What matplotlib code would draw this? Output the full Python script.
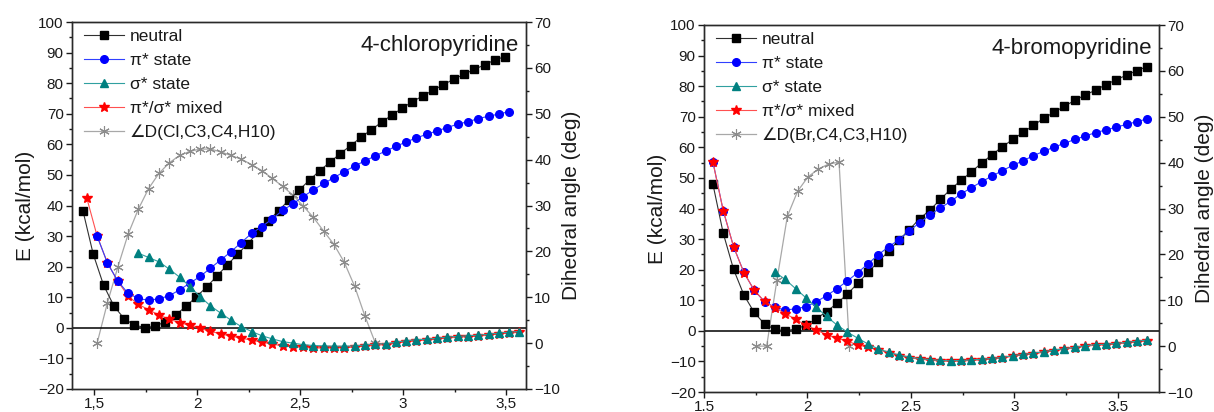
import matplotlib
matplotlib.use("Agg")
import matplotlib.pyplot as plt
from matplotlib.ticker import MultipleLocator, FixedLocator, FixedFormatter
import numpy as np

plt.rcParams['font.family'] = ['Liberation Sans', 'DejaVu Sans']

# ---------------- 4-chloropyridine ----------------
cl_neutral_x = np.round(np.arange(1.446, 3.50, 0.05), 3)
cl_neutral = [38.3, 24.1, 14.0, 7.2, 3.0, 0.9, 0.1, 0.5, 2.0, 4.2, 7.0, 10.1, 13.3, 16.9,
              20.5, 24.0, 27.5, 31.2, 35.0, 38.3, 41.8, 45.1, 48.3, 51.4, 54.2, 57.0, 59.6,
              62.3, 64.8, 67.2, 69.6, 71.8, 74.0, 75.8, 77.7, 79.5, 81.3, 82.9, 84.5, 86.0,
              87.6, 88.7]

cl_pi_x = np.round(np.arange(1.515, 3.52, 0.05), 3)
cl_pi = [30.0, 21.2, 15.3, 11.3, 9.6, 9.0, 9.5, 10.5, 12.4, 14.6, 16.8, 19.5, 22.2, 24.9,
         27.9, 30.9, 33.1, 35.6, 38.4, 40.5, 42.9, 45.1, 47.2, 49.1, 51.1, 52.9, 54.6, 56.2,
         57.8, 59.3, 60.8, 62.1, 63.3, 64.4, 65.5, 66.6, 67.4, 68.4, 69.2, 69.9, 70.7]

cl_sigma_x = np.round(np.arange(1.715, 3.57, 0.05), 3)
cl_sigma = [24.4, 23.0, 21.6, 19.2, 16.6, 13.5, 10.2, 7.2, 4.8, 2.5, 0.4, -1.2, -2.6, -3.6,
            -4.5, -5.0, -5.5, -5.8, -5.9, -6.0, -6.0, -5.9, -5.6, -5.3, -5.2, -4.7, -4.2,
            -3.9, -3.7, -3.4, -3.0, -2.8, -2.6, -2.4, -2.1, -1.7, -1.4, -1.2]

cl_mixed_x = np.round(np.arange(1.465, 3.57, 0.05), 3)
cl_mixed = [42.4, 30.0, 21.2, 15.3, 10.4, 7.7, 5.9, 4.2, 2.8, 1.7, 0.8, -0.2, -1.1, -2.0,
            -2.7, -3.4, -4.0, -4.7, -5.3, -5.9, -6.2, -6.4, -6.6, -6.6, -6.6, -6.5, -6.3,
            -6.0, -5.7, -5.5, -5.0, -4.5, -4.2, -4.0, -3.7, -3.3, -3.1, -2.9, -2.7, -2.4,
            -2.0, -1.7, -1.5]

cl_dih_x = np.round(np.arange(1.515, 2.87, 0.05), 3)
cl_dih = [0.0, 8.8, 16.5, 23.7, 29.2, 33.7, 37.0, 39.3, 40.9, 41.8, 42.3, 42.3, 41.7, 40.9,
          40.1, 38.9, 37.6, 35.9, 34.2, 32.3, 29.9, 27.4, 24.4, 21.5, 17.6, 12.4, 5.9, 0.1]

# ---------------- 4-bromopyridine ----------------
br_neutral_x = np.round(np.arange(1.543, 3.65, 0.05), 3)
br_neutral = [48.0, 31.9, 20.1, 11.7, 6.0, 2.2, 0.5, 0.0, 0.6, 1.8, 4.0, 6.3, 9.0, 12.0,
              15.5, 19.1, 22.6, 26.1, 29.7, 33.1, 36.7, 39.5, 43.0, 46.3, 49.2, 52.0, 54.9,
              57.6, 60.2, 62.6, 64.9, 67.2, 69.5, 71.5, 73.4, 75.4, 77.1, 78.7, 80.5, 82.1,
              83.6, 85.1, 86.4]

br_pi_x = br_neutral_x
br_pi = [55.3, 39.3, 27.5, 19.1, 13.2, 9.5, 7.7, 6.8, 7.2, 7.9, 9.5, 11.5, 13.8, 16.3,
         19.0, 21.9, 24.9, 27.5, 29.8, 32.7, 35.4, 37.9, 40.2, 42.3, 44.8, 46.8, 48.8, 50.6,
         52.4, 54.1, 55.6, 57.3, 58.7, 60.1, 61.3, 62.6, 63.7, 64.8, 65.7, 66.6, 67.5, 68.4,
         69.3]

br_sigma_x = np.round(np.arange(1.843, 3.65, 0.05), 3)
br_sigma = [19.2, 16.8, 13.8, 10.8, 7.7, 4.7, 1.9, -0.4, -2.4, -4.3, -5.9, -7.0, -7.9,
            -8.6, -9.1, -9.4, -9.7, -9.8, -9.7, -9.5, -9.3, -9.0, -8.7, -8.1, -7.7, -7.3,
            -6.8, -6.3, -5.8, -5.4, -4.9, -4.5, -4.4, -4.1, -3.8, -3.4, -3.0]

br_mixed_x = br_neutral_x
br_mixed = [55.2, 39.3, 27.5, 19.0, 13.3, 9.6, 7.6, 5.6, 3.8, 1.8, 0.3, -1.3, -2.5, -3.3,
            -4.7, -5.2, -6.2, -7.2, -8.1, -8.8, -9.3, -9.6, -9.9, -10.0, -9.9, -9.7, -9.5,
            -9.2, -8.9, -8.3, -7.9, -7.5, -7.0, -6.5, -6.0, -5.6, -5.1, -4.7, -4.6, -4.3,
            -4.0, -3.6, -3.2]

br_dih_x = np.round(np.arange(1.753, 2.21, 0.05), 3)
br_dih = [0.0, 0.0, 14.5, 28.3, 33.8, 36.9, 38.6, 39.7, 40.1, 0.0]

# ---------------- axis settings ----------------
cl_xticks = [1.5, 2.0, 2.5, 3.0, 3.5]
cl_xticklabels = ['1,5', '2', '2,5', '3', '3,5']
br_xticks = [1.5, 2.0, 2.5, 3.0, 3.5]
br_xticklabels = ['1.5', '2', '2.5', '3', '3.5']
e_ticks = list(range(-20, 101, 10))
dih_ticks = list(range(-10, 71, 10))

TEAL = '#008080'
TXT = '#1a1a1a'

fig = plt.figure(figsize=(12.14, 4.12), dpi=100)


def panel(rect, xlim, xticks, xticklabels, title, dih_label, neu, pi, sig, mix, dih,
          red_on_top):
    ax = fig.add_axes(rect)
    ax2 = ax.twinx()
    ax.set_zorder(ax2.get_zorder() + 1)
    ax.patch.set_visible(False)

    ax.axhline(0, color='black', lw=1.1, zorder=1)

    h_neu, = ax.plot(neu[0], neu[1], color='#303030', lw=0.8, marker='s', ms=5.3,
                     mfc='black', mec='black', zorder=3, label='neutral')
    h_pi, = ax.plot(pi[0], pi[1], color='#3040ff', lw=0.8, marker='o', ms=5.5,
                    mfc='#0000ff', mec='#0000ff', zorder=4 if not red_on_top else 3.5,
                    label='π* state')
    h_mix, = ax.plot(mix[0], mix[1], color='#ff5050', lw=0.8, marker='*', ms=7.7,
                     mfc='#ff0000', mec='#ff0000', zorder=3.5 if not red_on_top else 4,
                     label='π*/σ* mixed')
    h_sig, = ax.plot(sig[0], sig[1], color='#30a0a0', lw=0.8, marker='^', ms=6.4,
                     mfc=TEAL, mec=TEAL, zorder=5, label='σ* state')
    h_dih, = ax2.plot(dih[0], dih[1], color='#a8a8a8', lw=0.9, marker=(6, 2, 0), ms=7.5,
                      mec='#8c8c8c', mew=0.8, label=dih_label)

    ax.set_xlim(*xlim)
    ax.set_ylim(-20, 100)
    ax2.set_ylim(-10, 70)

    ax.xaxis.set_major_locator(FixedLocator(xticks))
    ax.xaxis.set_major_formatter(FixedFormatter(xticklabels))
    ax.xaxis.set_minor_locator(MultipleLocator(0.25))
    ax.yaxis.set_major_locator(FixedLocator(e_ticks))
    ax.yaxis.set_minor_locator(MultipleLocator(5))
    ax2.yaxis.set_major_locator(FixedLocator(dih_ticks))
    ax2.yaxis.set_minor_locator(MultipleLocator(5))

    for a in (ax, ax2):
        a.tick_params(which='major', direction='out', length=4, width=1,
                      labelsize=11, colors=TXT, pad=2)
        a.tick_params(which='minor', direction='out', length=2.5, width=1, colors=TXT)
        for s in a.spines.values():
            s.set_color('#2a2a2a')
            s.set_linewidth(1.0)
    ax.tick_params(which='both', top=False, right=False)
    ax2.tick_params(which='both', left=False, top=False, bottom=False)

    ax.set_ylabel('E (kcal/mol)', fontsize=15, color=TXT, labelpad=2)
    ax2.set_ylabel('Dihedral angle (deg)', fontsize=15, color=TXT, labelpad=1)

    ax.text(0.985, 0.935, title, transform=ax.transAxes, ha='right', va='center',
            fontsize=16, color=TXT)

    leg = ax.legend(handles=[h_neu, h_pi, h_sig, h_mix, h_dih], loc='upper left',
                    bbox_to_anchor=(0.012, 1.0), frameon=False, fontsize=12.5,
                    handlelength=2.3, handletextpad=0.3, labelspacing=0.5,
                    borderaxespad=0.2, borderpad=0.2)
    for t in leg.get_texts():
        t.set_color(TXT)
    return ax, ax2


panel([72 / 1214, 1 - 389 / 412, 454 / 1214, 367 / 412], (1.393, 3.597),
      cl_xticks, cl_xticklabels, '4-chloropyridine', '∠D(Cl,C3,C4,H10)',
      (cl_neutral_x, cl_neutral), (cl_pi_x, cl_pi), (cl_sigma_x, cl_sigma),
      (cl_mixed_x, cl_mixed), (cl_dih_x, cl_dih), red_on_top=False)

panel([704 / 1214, 1 - 392 / 412, 455 / 1214, 367 / 412], (1.5, 3.7),
      br_xticks, br_xticklabels, '4-bromopyridine', '∠D(Br,C4,C3,H10)',
      (br_neutral_x, br_neutral), (br_pi_x, br_pi), (br_sigma_x, br_sigma),
      (br_mixed_x, br_mixed), (br_dih_x, br_dih), red_on_top=True)

fig.savefig('out.png', dpi=100)
